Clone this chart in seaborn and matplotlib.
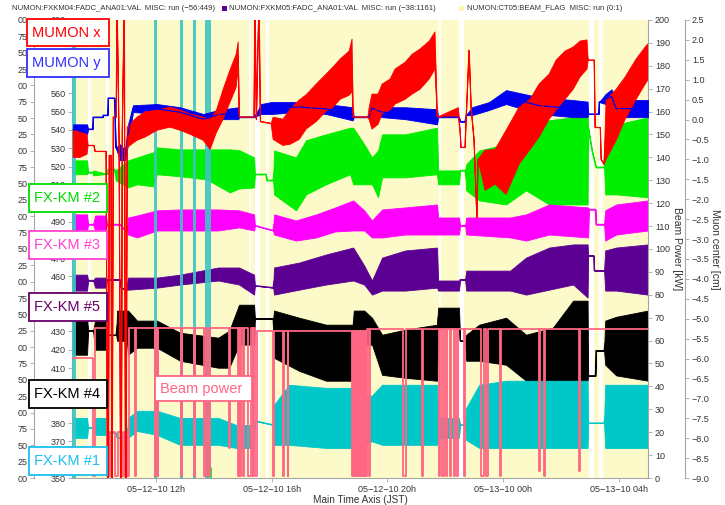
import numpy as np
import pandas as pd
import matplotlib
matplotlib.use("Agg")
import matplotlib.pyplot as plt
import matplotlib.dates as mdates
from matplotlib.patches import Rectangle
from matplotlib.ticker import MultipleLocator, FuncFormatter
import seaborn as sns

# ---------------------------------------------------------------------------
# Data. Time is given in hours after 2010-05-12 00:00 (JST).
# Noisy channels are stored as (time, low envelope, high envelope);
# rows with low == high are beam-off hold values.
# ---------------------------------------------------------------------------

# MUMON x / y  [cm]  (Muon center axis)
mumon_x = [
    (9.13, -0.95, -0.27), (9.37, -0.95, -0.32), (9.61, -0.87, -0.37),
    (9.65, -0.65, -0.65), (9.85, -0.65, -0.65), (9.89, -0.80, -0.80),
    (10.27, -0.80, -0.80), (10.34, -12, -12), (10.38, -0.90, -0.90),
    (10.44, -0.90, -0.90), (10.47, -12, -12), (10.52, 0.06, 0.06),
    (10.62, 0.06, 0.06), (10.65, 3.0, 3.0), (10.72, -0.60, -0.60),
    (10.79, -12, -12), (10.83, -0.30, -0.30), (10.90, 3.0, 3.0),
    (10.95, -12, -12), (11.00, -0.70, -0.19), (11.34, -0.52, 0.06),
    (11.62, -0.44, 0.19), (12.03, -0.27, 0.24), (12.48, -0.19, 0.31),
    (12.83, -0.27, 0.24), (13.18, -0.37, 0.14), (13.63, -0.52, 0.06),
    (13.87, -0.75, 0.01), (14.09, -0.32, 0.24), (14.32, 0.01, 0.76),
    (14.53, 0.39, 1.19), (14.77, 0.81, 1.64), (14.84, 1.27, 1.95),
    (14.88, 0.06, 0.06), (15.39, 0.06, 0.06), (15.42, 3.0, 3.0),
    (15.47, 0.0, 0.0), (15.56, 3.0, 3.0), (15.61, -0.05, -0.05),
    (15.98, -0.10, -0.10), (16.05, -0.50, 0.06), (16.39, -0.65, 0.01),
    (16.64, -0.62, 0.26), (16.95, -0.50, 0.49), (17.19, -0.24, 0.62),
    (17.54, -0.05, 0.89), (17.88, 0.21, 1.14), (18.12, 0.31, 1.32),
    (18.37, 0.51, 1.52), (18.68, 0.61, 1.72), (18.78, 0.71, 2.02),
    (18.82, 0.06, 0.06), (19.33, 0.06, 0.06), (19.37, 0.0, 0.30),
    (19.47, -0.24, 0.64), (19.68, -0.12, 0.64), (19.82, 0.14, 0.89),
    (20.10, 0.24, 1.02), (20.27, 0.39, 1.27), (20.62, 0.51, 1.44),
    (20.86, 0.64, 1.64), (21.13, 0.76, 1.77), (21.45, 1.02, 1.97),
    (21.65, 1.27, 2.20), (21.73, 0.06, 0.06), (22.46, 0.06, 0.30),
    (22.52, -0.30, -0.30), (22.55, -0.70, -0.70), (22.69, -0.70, -0.70),
    (22.73, 0.06, 0.06), (22.83, 1.74, 1.74), (22.90, 0.30, 0.30),
    (23.00, -0.50, -0.50), (23.10, -2.46, -2.46), (23.14, -1.00, -1.00),
    (23.38, -1.78, -0.77), (23.73, -1.62, -0.75), (24.11, -1.88, -0.27),
    (24.56, -1.12, 0.31), (24.94, -0.75, 0.51), (25.25, -0.44, 0.89),
    (25.60, 0.01, 1.14), (25.84, 0.24, 1.49), (26.15, 0.51, 1.72),
    (26.43, 0.76, 1.82), (26.67, 1.07, 1.97), (26.91, 1.27, 2.00),
    (26.95, 1.49, 1.49), (27.16, 1.49, 1.49), (27.19, -0.20, -0.20),
    (27.37, -0.20, -0.20), (27.40, -1.00, -1.00), (27.50, -1.12, -1.12),
    (27.57, -1.00, 0.49), (27.92, -0.52, 0.76), (28.23, 0.01, 1.07),
    (28.61, 0.51, 1.52), (28.92, 0.89, 1.82), (29.02, 1.00, 1.90),
]
mumon_y = [
    (9.13, -0.37, -0.12), (9.61, -0.37, -0.12), (9.65, -0.24, -0.24),
    (9.80, -0.24, -0.24), (9.82, 0.06, 0.06), (10.15, 0.06, 0.06),
    (10.17, 0.11, 0.11), (10.32, 0.11, 0.11), (10.34, 0.54, 0.54),
    (10.56, 0.54, 0.54), (10.60, -0.70, -0.70), (10.75, -1.02, -0.62),
    (10.93, -1.02, -0.77), (11.03, -0.62, -0.12), (11.20, 0.19, 0.36),
    (12.03, 0.14, 0.39), (12.83, 0.06, 0.31), (13.63, -0.12, 0.14),
    (14.15, 0.01, 0.24), (14.84, 0.01, 0.31), (14.88, 0.06, 0.06),
    (15.39, 0.06, 0.06), (15.63, 0.14, 0.39), (15.98, 0.14, 0.44),
    (16.95, 0.19, 0.44), (17.88, 0.14, 0.39), (18.80, -0.02, 0.31),
    (18.84, 0.06, 0.06), (19.37, 0.06, 0.06), (19.47, 0.14, 0.44),
    (19.82, 0.06, 0.31), (20.62, 0.01, 0.31), (21.72, -0.12, 0.26),
    (21.76, 0.06, 0.06), (22.48, 0.06, 0.06), (22.52, -0.05, -0.05),
    (22.69, -0.05, -0.05), (22.73, 0.11, 0.11), (22.93, 0.11, 0.31),
    (23.52, 0.24, 0.44), (24.11, 0.39, 0.74), (25.25, 0.14, 0.56),
    (26.43, 0.06, 0.49), (26.93, 0.06, 0.45), (26.95, 0.14, 0.14),
    (27.31, 0.14, 0.14), (27.33, 0.44, 0.44), (27.55, 0.39, 0.64),
    (27.76, 0.40, 0.76), (27.92, 0.06, 0.49), (29.02, 0.06, 0.49),
]

# FX-KM channels (left inner axis)
fxkm2 = [
    (9.13, 515.8, 523.4), (9.61, 515.8, 523.4), (9.65, 516.8, 516.8),
    (9.80, 516.8, 516.8), (9.82, 515.2, 517.9), (10.32, 516.0, 516.0),
    (10.34, 518.5, 518.5), (10.56, 518.5, 518.5), (10.60, 512.5, 517.9),
    (11.03, 508.6, 523.4), (11.34, 510.3, 525.0), (11.90, 509.2, 527.8),
    (12.03, 515.8, 530.5), (12.83, 514.7, 529.4), (13.75, 513.0, 529.4),
    (14.55, 505.9, 529.4), (14.87, 508.0, 529.0), (15.39, 508.6, 525.0),
    (15.42, 515.8, 515.8), (15.80, 515.8, 515.8), (15.83, 512.5, 512.5),
    (16.05, 512.5, 512.5), (16.08, 504.8, 528.8), (16.84, 496.1, 525.0),
    (17.19, 504.8, 534.4), (17.88, 510.3, 537.6), (18.71, 515.8, 541.2),
    (18.82, 510.3, 541.2), (19.20, 510.3, 532.2), (19.47, 510.3, 525.0),
    (19.68, 503.2, 528.8), (19.82, 514.1, 537.6), (20.62, 514.1, 537.6),
    (21.72, 515.8, 541.2), (21.76, 510.3, 517.9), (22.48, 510.3, 517.9),
    (22.52, 517.9, 517.9), (22.69, 517.9, 517.9), (22.73, 507.0, 521.2),
    (23.18, 501.5, 528.8), (24.11, 499.3, 532.2), (24.80, 507.0, 541.2),
    (25.60, 499.3, 545.3), (26.43, 499.3, 546.9), (26.93, 499.3, 546.9),
    (26.95, 541.2, 541.2), (27.08, 528.8, 528.8), (27.22, 519.6, 519.6),
    (27.50, 519.6, 519.6), (27.54, 504.8, 541.2), (27.92, 504.8, 542.9),
    (29.02, 503.2, 546.9),
]
fxkm3 = [
    (9.13, 485.1, 493.9), (9.61, 485.1, 493.9), (9.65, 488.4, 488.4),
    (9.82, 488.4, 488.4), (9.89, 485.1, 493.3), (10.27, 485.1, 493.3),
    (10.30, 488.4, 488.4), (10.75, 488.4, 488.4), (10.93, 485.1, 485.1),
    (11.00, 485.1, 485.1), (11.03, 482.9, 492.2), (11.34, 481.3, 493.3),
    (12.03, 485.1, 496.1), (12.83, 485.1, 496.6), (14.15, 485.1, 496.6),
    (14.87, 486.8, 496.1), (15.39, 485.1, 493.9), (15.42, 487.8, 487.8),
    (16.05, 485.1, 485.1), (16.08, 482.9, 493.9), (16.84, 479.6, 490.6),
    (17.54, 481.3, 493.9), (18.20, 484.6, 497.7), (18.82, 485.1, 501.5),
    (19.20, 485.1, 496.1), (19.47, 481.3, 490.6), (19.82, 481.3, 496.6),
    (20.62, 482.9, 497.7), (21.72, 482.9, 499.3), (21.76, 482.9, 492.2),
    (22.48, 482.9, 492.2), (22.52, 487.8, 487.8), (22.69, 487.8, 487.8),
    (22.73, 482.9, 492.2), (24.25, 481.3, 492.2), (24.80, 479.6, 493.9),
    (25.60, 482.9, 499.3), (26.95, 481.3, 497.7), (26.98, 496.6, 496.6),
    (27.20, 496.6, 496.6), (27.22, 488.4, 488.4), (27.50, 488.4, 488.4),
    (27.54, 479.6, 496.1), (27.92, 482.9, 499.3), (29.02, 485.1, 501.5),
]
fxkm5 = [
    (9.13, 452.3, 461.0), (9.61, 452.3, 461.0), (9.65, 457.8, 457.8),
    (9.82, 457.8, 457.8), (9.89, 453.9, 459.4), (10.27, 453.9, 459.4),
    (10.30, 458.3, 458.3), (10.75, 458.3, 458.3), (10.78, 453.9, 453.9),
    (10.95, 452.8, 452.8), (11.03, 452.8, 459.4), (12.03, 453.9, 459.4),
    (12.83, 455.6, 461.0), (14.15, 457.8, 464.9), (14.87, 455.6, 464.9),
    (15.39, 450.1, 461.0), (15.42, 455.0, 455.0), (16.05, 453.9, 453.9),
    (16.08, 450.1, 464.9), (16.95, 452.8, 467.6), (17.88, 455.6, 472.0),
    (18.82, 457.8, 475.8), (19.20, 455.6, 466.0), (19.47, 450.1, 457.8),
    (19.82, 452.3, 470.3), (20.62, 452.3, 474.2), (21.72, 453.9, 475.8),
    (21.76, 452.3, 457.8), (22.48, 452.3, 457.8), (22.52, 458.3, 458.3),
    (22.69, 458.3, 458.3), (22.73, 452.3, 463.2), (24.25, 452.3, 463.2),
    (24.80, 450.1, 470.3), (25.60, 452.8, 475.8), (26.43, 455.6, 477.5),
    (26.93, 448.5, 477.5), (26.95, 471.4, 471.4), (27.14, 471.4, 471.4),
    (27.16, 463.2, 463.2), (27.50, 463.2, 463.2), (27.54, 452.3, 474.2),
    (27.92, 452.3, 475.8), (29.02, 450.1, 477.5),
]
fxkm4 = [
    (9.13, 417.3, 437.5), (9.61, 417.3, 437.5), (9.65, 430.4, 430.4),
    (9.82, 430.4, 430.4), (9.89, 420.0, 435.9), (10.27, 420.0, 435.9),
    (10.30, 428.0, 428.0), (10.62, 428.0, 428.0), (10.65, 424.9, 441.4),
    (10.99, 424.9, 441.4), (11.03, 417.3, 441.4), (11.34, 421.1, 435.9),
    (12.03, 421.1, 435.9), (12.83, 414.0, 429.3), (14.15, 410.2, 426.6),
    (14.53, 410.2, 430.4), (14.87, 422.8, 444.6), (15.39, 422.8, 444.6),
    (15.42, 437.0, 437.0), (16.05, 437.0, 437.0), (16.08, 415.6, 441.4),
    (16.95, 408.5, 437.5), (17.88, 403.1, 433.7), (18.80, 403.1, 433.7),
    (18.84, 428.2, 441.4), (19.20, 422.8, 441.4), (19.47, 422.8, 437.5),
    (19.82, 406.3, 428.2), (20.62, 404.7, 431.0), (21.72, 403.1, 433.7),
    (21.76, 432.1, 443.0), (22.48, 432.1, 443.0), (22.52, 424.9, 424.9),
    (22.69, 424.9, 424.9), (22.73, 414.0, 428.2), (23.18, 414.0, 433.7),
    (24.11, 411.8, 437.5), (24.80, 403.1, 428.2), (25.73, 403.1, 432.1),
    (26.43, 403.1, 446.8), (26.93, 403.1, 446.8), (26.95, 405.8, 405.8),
    (27.20, 405.8, 405.8), (27.22, 419.5, 419.5), (27.50, 419.5, 419.5),
    (27.54, 411.8, 435.9), (27.92, 406.0, 438.0), (29.02, 403.1, 441.4),
]
fxkm1 = [
    (9.13, 371.9, 382.8), (9.61, 371.9, 382.8), (9.65, 377.4, 377.4),
    (9.82, 377.4, 377.4), (9.89, 373.5, 382.8), (10.27, 373.5, 382.8),
    (10.30, 374.6, 374.6), (10.62, 374.6, 374.6), (10.65, 371.9, 371.9),
    (10.99, 371.9, 371.9), (11.03, 371.9, 382.8), (11.34, 375.7, 386.7),
    (12.03, 373.5, 386.7), (12.83, 368.1, 382.8), (14.15, 368.1, 382.8),
    (14.77, 366.4, 379.0), (15.39, 366.4, 379.0), (15.42, 381.2, 381.2),
    (16.05, 379.0, 379.0), (16.08, 368.1, 389.9), (16.60, 368.1, 400.9),
    (17.88, 366.4, 399.2), (18.82, 366.4, 399.2), (19.20, 368.0, 395.0),
    (19.47, 370.0, 395.0), (19.82, 368.1, 400.9), (21.72, 368.1, 400.9),
    (21.76, 371.9, 382.8), (22.48, 371.9, 382.8), (22.52, 379.0, 379.0),
    (22.69, 379.0, 379.0), (22.73, 370.7, 388.3), (23.18, 366.4, 400.9),
    (24.11, 366.4, 403.1), (26.93, 366.4, 403.1), (26.95, 380.0, 380.0),
    (27.50, 380.0, 380.0), (27.54, 366.4, 400.9), (29.02, 366.4, 400.9),
]

# FX-KM #1 full-scale excursions (start, end) and FX-KM #2 drop-outs (time, value)
fxkm1_spikes = [(9.09, 9.23), (11.93, 12.03), (12.83, 12.93), (13.28, 13.38), (13.70, 13.90)]
fxkm2_drops_t = [11.97, 12.87, 13.31, 13.75, 13.85]
fxkm2_drops_v = [354.4, 360.9, 358.2, 356.0, 356.0]

# Beam power [kW], step values
beam_t = [9.10, 9.82, 9.89, 10.30, 10.41, 10.58, 10.68, 10.82, 10.89, 10.99,
          11.07, 11.27, 11.31, 11.95, 11.99, 12.05, 12.08, 12.85, 12.89, 13.30,
          13.35, 13.66, 13.71, 13.80, 13.85, 14.53, 14.56, 14.84, 14.87, 14.91,
          14.94, 15.02, 15.05, 15.19, 15.29, 15.34, 15.37, 15.43, 15.48, 16.03,
          16.08, 16.38, 16.41, 16.55, 16.58, 18.78, 18.82, 18.85, 18.89, 18.92,
          18.96, 18.99, 19.03, 19.06, 19.10, 19.13, 19.17, 19.20, 19.24, 19.27,
          19.31, 19.37, 19.41, 20.56, 20.65, 21.20, 21.23, 21.79, 21.83, 21.90,
          21.95, 22.03, 22.07, 22.17, 22.22, 22.31, 22.34, 22.41, 22.45, 22.66,
          22.69, 23.25, 23.33, 23.42, 23.50, 23.90, 23.94, 25.25, 25.28, 25.42,
          25.46, 26.62, 26.65, 29.02]
beam_kw = [52.5, 1, 65.5, 1, 20, 1, 20, 1, 20, 1,
           65.5, 1, 65.5, 1, 65.5, 1, 65.5, 1, 65.5, 1,
           65.5, 1, 65.5, 1, 65.5, 13, 65.5, 1, 65.5, 1,
           65.5, 1, 65.5, 1, 65.5, 1, 65.5, 1, 64.3, 1,
           64.3, 1, 64.3, 1, 64.3, 1, 64.3, 1, 64.3, 1,
           64.3, 1, 64.3, 1, 64.3, 1, 64.3, 1, 64.3, 1,
           65, 1, 65, 1, 65, 1, 65, 1, 65, 1,
           65, 1, 65, 1, 65, 1, 65, 1, 65, 1,
           65, 1, 65, 1, 65, 1, 65, 3, 65, 1,
           65, 3, 65, 65]

# Beam flag = 1 periods (start, end)
beam_flag_on = [(9.09, 9.65), (9.75, 10.27), (10.37, 10.65), (10.72, 15.22),
                (15.29, 15.43), (15.60, 15.81), (15.91, 21.79), (21.86, 22.48),
                (22.66, 26.98), (27.16, 27.33), (27.47, 29.02)]

# ---------------------------------------------------------------------------
T0 = pd.Timestamp("2010-05-12 00:00")


def to_time(hours):
    return T0 + pd.to_timedelta(np.atleast_1d(np.asarray(hours, dtype=float)), unit="h")


sns.set_theme(style="ticks")
plt.rcParams["font.family"] = ["Liberation Sans", "DejaVu Sans"]
plt.rcParams["axes.unicode_minus"] = True

W, H = 725, 505
L, R, T, B = 72, 648, 20, 478
fig = plt.figure(figsize=(W / 100, H / 100), dpi=100)
fig.patch.set_facecolor("white")


def fx(px):
    return px / W


def fy(py):
    return 1 - py / H


ax = fig.add_axes([fx(L), fy(B), (R - L) / W, (B - T) / H])
ax.set_facecolor("white")
ax_bp = ax.twinx()
ax_mu = ax.twinx()
ax_out = ax.twinx()

GREY = "#a6a6a6"
TXT = "#333333"

# beam flag background
for a, b in beam_flag_on:
    ax.axvspan(to_time(a)[0], to_time(b)[0], color="#fcfac8", lw=0, zorder=0)


def draw_band(axis, rows, color, lw=0.9):
    arr = np.asarray(rows, dtype=float)
    when = to_time(arr[:, 0]).values
    frame = pd.DataFrame({
        "time": np.concatenate([when, when]),
        "value": np.concatenate([arr[:, 1], arr[:, 2]]),
    })
    sns.lineplot(data=frame, x="time", y="value", estimator="mean",
                 errorbar=("pi", 100), color=color, linewidth=lw,
                 err_kws={"alpha": 1.0, "linewidth": 0.6, "edgecolor": color},
                 ax=axis, legend=False)


C_RED, C_BLUE = "#ff0000", "#0000f0"
C_GREEN, C_MAG, C_PUR = "#00ee00", "#ff00ff", "#5c0094"
C_BLK, C_CYAN, C_BEAM = "#000000", "#00c8c8", "#ff6683"

draw_band(ax, fxkm2, C_GREEN)
draw_band(ax, fxkm3, C_MAG)
draw_band(ax, fxkm5, C_PUR)
draw_band(ax, fxkm4, C_BLK)
draw_band(ax, fxkm1, C_CYAN)
ax.vlines(to_time(fxkm2_drops_t), 350, fxkm2_drops_v, colors=C_GREEN, lw=2.0, zorder=3)
for a, b in fxkm1_spikes:
    ax.axvspan(to_time(a)[0], to_time(b)[0], color="#3ec4c4", alpha=0.9, lw=0, zorder=3)

sns.lineplot(x=to_time(beam_t), y=beam_kw, drawstyle="steps-post", estimator=None,
             color=C_BEAM, linewidth=1.3, ax=ax_bp, legend=False)

draw_band(ax_mu, mumon_y, C_BLUE)
draw_band(ax_mu, mumon_x, C_RED)

# ---- axes ----
ax.set_ylim(350, 600)
ax_bp.set_ylim(0, 200)
ax_mu.set_ylim(-9.0, 2.5)
ax_out.set_ylim(0, 7)

for a in (ax, ax_bp, ax_mu, ax_out):
    a.set_ylabel("")
    a.set_xlabel("")
    for s in a.spines.values():
        s.set_visible(False)
        s.set_color(GREY)
        s.set_linewidth(0.8)

ax.spines["left"].set_visible(True)
ax.spines["bottom"].set_visible(True)
ax.yaxis.set_major_locator(MultipleLocator(10))
ax.tick_params(axis="y", left=True, right=False, length=3, width=0.6, color=GREY,
               labelsize=6.5, labelcolor=TXT, pad=1.5)

ax_bp.spines["right"].set_visible(True)
ax_bp.yaxis.set_major_locator(MultipleLocator(10))
ax_bp.tick_params(axis="y", right=True, length=3, width=0.6, color=GREY,
                  labelsize=6.5, labelcolor=TXT, pad=2)
ax_bp.set_ylabel("Beam Power [kW]", fontsize=7.5, color=TXT, rotation=270)
ax_bp.yaxis.set_label_coords((677 - L) / (R - L), 0.5)
ax_bp.yaxis.label.set(ha="center", va="center")

ax_mu.spines["right"].set_position(("axes", (685 - L) / (R - L)))
ax_mu.spines["right"].set_visible(True)
ax_mu.yaxis.set_major_locator(MultipleLocator(0.5))
ax_mu.yaxis.set_major_formatter(FuncFormatter(lambda v, p: f"{v:.1f}".replace("-", "\u2212")))
ax_mu.tick_params(axis="y", right=True, length=3, width=0.6, color=GREY,
                  labelsize=6.5, labelcolor=TXT, pad=2)
ax_mu.set_ylabel("Muon center [cm]", fontsize=7.5, color=TXT, rotation=270)
ax_mu.yaxis.set_label_coords((715 - L) / (R - L), 0.5)
ax_mu.yaxis.label.set(ha="center", va="center")

ax_out.spines["left"].set_position(("axes", (33.5 - L) / (R - L)))
ax_out.spines["left"].set_visible(True)
ax_out.yaxis.set_ticks_position("left")
ax_out.yaxis.set_major_locator(MultipleLocator(0.25))
ax_out.yaxis.set_major_formatter(FuncFormatter(lambda v, p: f"{v:.2f}"[-2:]))
ax_out.tick_params(axis="y", left=True, right=False, length=3, width=0.6, color=GREY,
                   labelsize=6.5, labelcolor=TXT, pad=1.5)

ax.set_xlim(to_time(9.09)[0], to_time(29.02)[0])
ax.xaxis.set_major_locator(mdates.HourLocator(byhour=[0, 4, 8, 12, 16, 20]))
ax.xaxis.set_major_formatter(mdates.DateFormatter("%m\u2212%d\u2212%y %Hh"))
ax.tick_params(axis="x", bottom=True, length=3, width=0.6, color=GREY,
               labelsize=6.5, labelcolor=TXT, pad=2)
ax.set_xlabel("Main Time Axis (JST)", fontsize=7.2, color=TXT, labelpad=1)

# ---- channel header ----
hy = fy(9)
HF = 5.6
fig.text(fx(215), hy, "NUMON:FXKM04:FADC_ANA01:VAL  MISC: run (\u221256:449)",
         ha="right", va="center", fontsize=HF, color=TXT)
fig.add_artist(Rectangle((fx(222), fy(11)), 5 / W, 5 / H, transform=fig.transFigure,
                         facecolor=C_PUR, edgecolor="none"))
fig.text(fx(229), hy, "NUMON:FXKM05:FADC_ANA01:VAL  MISC: run (\u221238:1161)",
         ha="left", va="center", fontsize=HF, color=TXT)
fig.add_artist(Rectangle((fx(459), fy(11)), 5 / W, 5 / H, transform=fig.transFigure,
                         facecolor="#fcf6b0", edgecolor="none"))
fig.text(fx(467), hy, "NUMON:CT05:BEAM_FLAG  MISC: run (0:1)",
         ha="left", va="center", fontsize=HF, color=TXT)

# ---- channel name boxes ----
boxes = [
    ("MUMON x", "#ff0000", 27, 19, 109, 46),
    ("MUMON y", "#3030ff", 27, 49, 109, 77),
    ("FX-KM #2", "#00dd00", 29, 184, 107, 212),
    ("FX-KM #3", "#ff40d0", 29, 231, 107, 259),
    ("FX-KM #5", "#680068", 29, 293, 107, 321),
    ("FX-KM #4", "#000000", 29, 380, 107, 408),
    ("FX-KM #1", "#18c0f0", 29, 447, 107, 475),
    ("Beam power", C_BEAM, 155, 376, 252, 401),
]
for label, col, x0, y0, x1, y1 in boxes:
    fig.add_artist(Rectangle((fx(x0), fy(y1)), (x1 - x0) / W, (y1 - y0) / H,
                             transform=fig.transFigure, facecolor="white",
                             edgecolor=col, lw=1.3, zorder=10))
    fig.text(fx(x0 + 5), fy((y0 + y1) / 2), label, color=col, fontsize=10.5,
             ha="left", va="center", zorder=11)

fig.savefig("out.png", dpi=100)
